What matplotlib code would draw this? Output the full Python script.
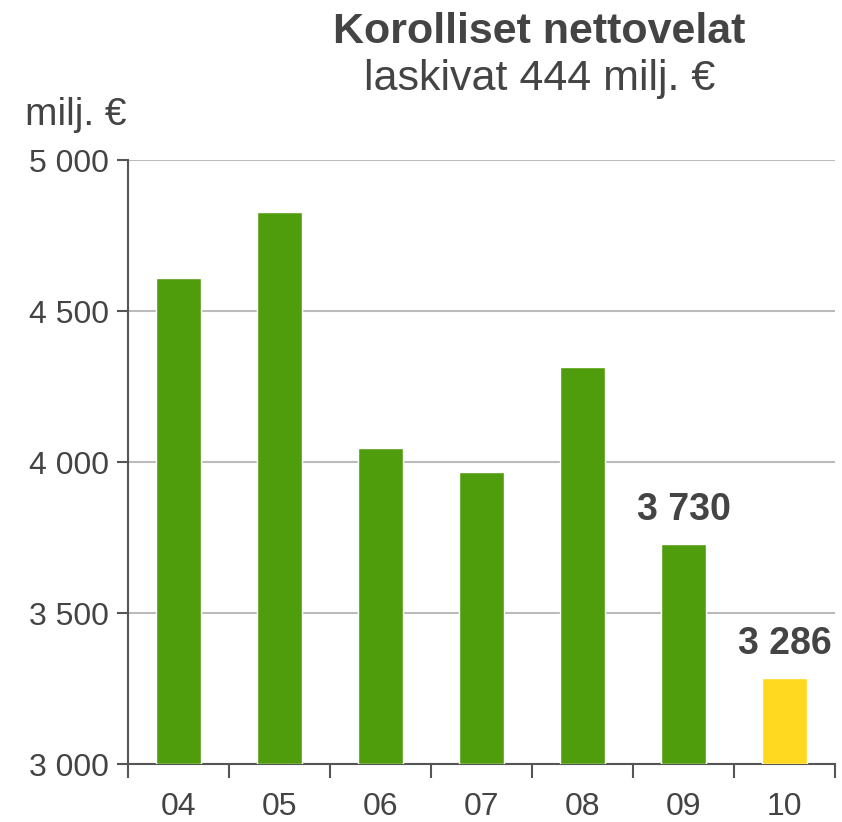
import matplotlib
matplotlib.use("Agg")
import matplotlib.pyplot as plt

# data
years = ['04', '05', '06', '07', '08', '09', '10']
debt = [4610, 4828, 4046, 3967, 4315, 3730, 3286]
colors = ['#4f9d0c'] * 6 + ['#ffd820']
labels_shown = {5: '3 730', 6: '3 286'}

plt.rcParams['font.family'] = ['Liberation Sans', 'DejaVu Sans']
text_col = '#444444'

fig = plt.figure(figsize=(8.42, 8.22), dpi=100)
ax = fig.add_axes([128/842, 1 - 764/822, (835-128)/842, (764-160)/822])

x = list(range(len(years)))
ax.bar(x, [v - 3000 for v in debt], bottom=3000, width=0.44, color=colors,
       edgecolor='white', linewidth=1, zorder=3)

ax.set_xlim(-0.5, 6.5)
ax.set_ylim(3000, 5000)
ax.set_yticks([3000, 3500, 4000, 4500, 5000])
ax.set_yticklabels(['3 000', '3 500', '4 000', '4 500', '5 000'])
ax.yaxis.grid(True, color='#bbbbbb', linewidth=1.5, zorder=0)

# category ticks between bars, labels under bars
ax.set_xticks([i - 0.5 for i in range(len(years) + 1)])
ax.set_xticklabels([])
ax.set_xticks(x, minor=True)
ax.set_xticklabels(years, minor=True)
ax.tick_params(axis='x', which='major', direction='out', length=10, width=1.5, color='#555555')
ax.tick_params(axis='x', which='minor', length=0, pad=20, labelsize=23, labelcolor=text_col)
ax.tick_params(axis='y', direction='out', length=8, width=1.5, color='#555555',
               labelsize=23, labelcolor=text_col, pad=6)

for s in ['top', 'right']:
    ax.spines[s].set_visible(False)
for s in ['left', 'bottom']:
    ax.spines[s].set_color('#555555')
    ax.spines[s].set_linewidth(1.5)

for i, txt in labels_shown.items():
    ax.annotate(txt, (i, debt[i]), xytext=(0, 24), textcoords='offset points',
                ha='center', va='center', fontsize=27, fontweight='bold', color=text_col)

fig.text(539/842, 1 - 32/822, 'Korolliset nettovelat', ha='center', va='center',
         fontsize=31, fontweight='bold', color=text_col)
fig.text(540/842, 1 - 79/822, 'laskivat 444 milj. €', ha='center', va='center',
         fontsize=31, color=text_col)
fig.text(25/842, 1 - 115/822, 'milj. €', ha='left', va='center',
         fontsize=28, color=text_col)

fig.savefig('out.png', dpi=100)
